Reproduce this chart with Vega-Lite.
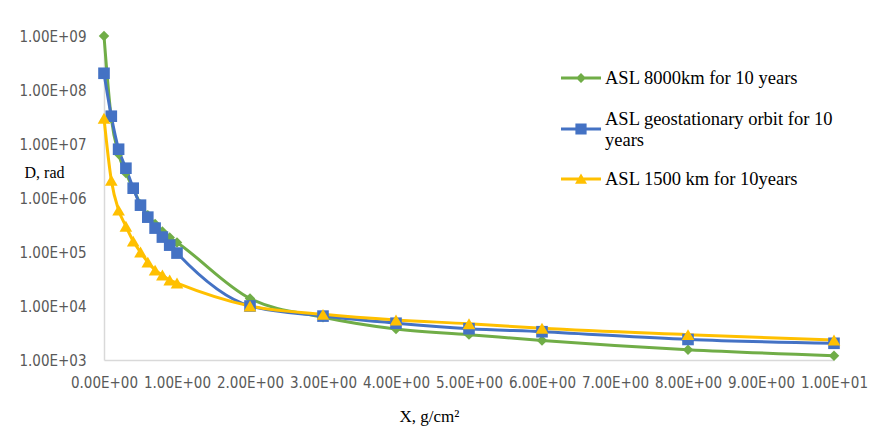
{
  "$schema": "https://vega.github.io/schema/vega-lite/v6.json",
  "width": 730,
  "height": 324,
  "autosize": {"type": "none"},
  "padding": {"left": 104, "top": 36, "right": 45, "bottom": 81},
  "background": "#ffffff",
  "config": {"view": {"stroke": null}},
  "data": {
    "values": [
      {"series": "ASL 8000km for 10 years", "x": 0, "D": 1000000000},
      {"series": "ASL 8000km for 10 years", "x": 0.1, "D": 30000000},
      {"series": "ASL 8000km for 10 years", "x": 0.2, "D": 6500000},
      {"series": "ASL 8000km for 10 years", "x": 0.3, "D": 2900000},
      {"series": "ASL 8000km for 10 years", "x": 0.4, "D": 1500000},
      {"series": "ASL 8000km for 10 years", "x": 0.5, "D": 760000},
      {"series": "ASL 8000km for 10 years", "x": 0.6, "D": 480000},
      {"series": "ASL 8000km for 10 years", "x": 0.7, "D": 330000},
      {"series": "ASL 8000km for 10 years", "x": 0.8, "D": 240000},
      {"series": "ASL 8000km for 10 years", "x": 0.9, "D": 185000},
      {"series": "ASL 8000km for 10 years", "x": 1, "D": 150000},
      {"series": "ASL 8000km for 10 years", "x": 2, "D": 13800},
      {"series": "ASL 8000km for 10 years", "x": 3, "D": 6200},
      {"series": "ASL 8000km for 10 years", "x": 4, "D": 3750},
      {"series": "ASL 8000km for 10 years", "x": 5, "D": 2950},
      {"series": "ASL 8000km for 10 years", "x": 6, "D": 2300},
      {"series": "ASL 8000km for 10 years", "x": 8, "D": 1550},
      {"series": "ASL 8000km for 10 years", "x": 10, "D": 1200},
      {"series": "ASL geostationary orbit for 10 years", "x": 0, "D": 204000000},
      {"series": "ASL geostationary orbit for 10 years", "x": 0.1, "D": 32700000},
      {"series": "ASL geostationary orbit for 10 years", "x": 0.2, "D": 8000000},
      {"series": "ASL geostationary orbit for 10 years", "x": 0.3, "D": 3560000},
      {"series": "ASL geostationary orbit for 10 years", "x": 0.4, "D": 1520000},
      {"series": "ASL geostationary orbit for 10 years", "x": 0.5, "D": 737000},
      {"series": "ASL geostationary orbit for 10 years", "x": 0.6, "D": 442000},
      {"series": "ASL geostationary orbit for 10 years", "x": 0.7, "D": 277000},
      {"series": "ASL geostationary orbit for 10 years", "x": 0.8, "D": 189000},
      {"series": "ASL geostationary orbit for 10 years", "x": 0.9, "D": 134000},
      {"series": "ASL geostationary orbit for 10 years", "x": 1, "D": 95500},
      {"series": "ASL geostationary orbit for 10 years", "x": 2, "D": 10000},
      {"series": "ASL geostationary orbit for 10 years", "x": 3, "D": 6500},
      {"series": "ASL geostationary orbit for 10 years", "x": 4, "D": 4800},
      {"series": "ASL geostationary orbit for 10 years", "x": 5, "D": 3800},
      {"series": "ASL geostationary orbit for 10 years", "x": 6, "D": 3340},
      {"series": "ASL geostationary orbit for 10 years", "x": 8, "D": 2400},
      {"series": "ASL geostationary orbit for 10 years", "x": 10, "D": 2040},
      {"series": "ASL 1500 km for 10years", "x": 0, "D": 30000000},
      {"series": "ASL 1500 km for 10years", "x": 0.1, "D": 2140000},
      {"series": "ASL 1500 km for 10years", "x": 0.2, "D": 596000},
      {"series": "ASL 1500 km for 10years", "x": 0.3, "D": 300000},
      {"series": "ASL 1500 km for 10years", "x": 0.4, "D": 159000},
      {"series": "ASL 1500 km for 10years", "x": 0.5, "D": 99600},
      {"series": "ASL 1500 km for 10years", "x": 0.6, "D": 65000},
      {"series": "ASL 1500 km for 10years", "x": 0.7, "D": 46200},
      {"series": "ASL 1500 km for 10years", "x": 0.8, "D": 37400},
      {"series": "ASL 1500 km for 10years", "x": 0.9, "D": 30200},
      {"series": "ASL 1500 km for 10years", "x": 1, "D": 26600},
      {"series": "ASL 1500 km for 10years", "x": 2, "D": 10000},
      {"series": "ASL 1500 km for 10years", "x": 3, "D": 7000},
      {"series": "ASL 1500 km for 10years", "x": 4, "D": 5500},
      {"series": "ASL 1500 km for 10years", "x": 5, "D": 4700},
      {"series": "ASL 1500 km for 10years", "x": 6, "D": 3860},
      {"series": "ASL 1500 km for 10years", "x": 8, "D": 2950},
      {"series": "ASL 1500 km for 10years", "x": 10, "D": 2340}
    ]
  },
  "encoding": {
    "x": {
      "field": "x",
      "type": "quantitative",
      "scale": {"domain": [0, 10], "nice": false, "zero": false},
      "axis": {
        "values": [0, 1, 2, 3, 4, 5, 6, 7, 8, 9, 10],
        "labelExpr": "replace(format(datum.value, '.2e'), 'e+', 'E+0')",
        "grid": false,
        "ticks": false,
        "tickSize": 0,
        "domainColor": "#d9d9d9",
        "domainWidth": 1.5,
        "labelFont": "Liberation Sans Narrow, DejaVu Sans Condensed, sans-serif",
        "labelFontSize": 15,
        "labelColor": "#595959",
        "labelPadding": 15,
        "labelFlush": false,
        "labelOverlap": false,
        "title": "X, g/cm²",
        "titleFont": "Liberation Serif",
        "titleFontSize": 17,
        "titleFontWeight": "normal",
        "titleColor": "#000000",
        "titleAnchor": null,
        "titleAlign": "center",
        "titleBaseline": "middle",
        "titleX": 325,
        "titleY": 56
      }
    },
    "y": {
      "field": "D",
      "type": "quantitative",
      "scale": {"type": "log", "domain": [1000, 1000000000], "nice": false},
      "axis": {
        "values": [1000, 10000, 100000, 1000000, 10000000, 100000000, 1000000000],
        "labelExpr": "replace(format(datum.value, '.2e'), 'e+', 'E+0')",
        "grid": false,
        "ticks": false,
        "tickSize": 0,
        "domainColor": "#d9d9d9",
        "domainWidth": 1.5,
        "labelFont": "Liberation Sans Narrow, DejaVu Sans Condensed, sans-serif",
        "labelFontSize": 15,
        "labelColor": "#595959",
        "labelPadding": 18,
        "labelFlush": false,
        "labelOverlap": false,
        "title": "D, rad",
        "titleFont": "Liberation Serif",
        "titleFontSize": 16,
        "titleFontWeight": "normal",
        "titleColor": "#000000",
        "titleAngle": 0,
        "titleAnchor": null,
        "titleAlign": "left",
        "titleBaseline": "middle",
        "titleX": -80,
        "titleY": 136
      }
    }
  },
  "resolve": {"legend": {"color": "independent", "fill": "independent", "shape": "independent", "size": "independent"}},
  "layer": [
    {
      "mark": {"type": "line", "interpolate": "monotone", "strokeWidth": 3},
      "encoding": {
        "color": {
          "field": "series",
          "type": "nominal",
          "scale": {
            "domain": ["ASL 8000km for 10 years", "ASL geostationary orbit for 10 years", "ASL 1500 km for 10years"],
            "range": ["#70AD47", "#4472C4", "#FFC000"]
          },
          "legend": {
            "orient": "none",
            "legendX": 457,
            "legendY": 22,
            "title": null,
            "symbolSize": 1600,
            "symbolType": "M-1,-0.075H1V0.075H-1Z",
            "symbolStrokeWidth": 0,
            "labelFont": "Liberation Serif",
            "labelFontSize": 18.5,
            "labelColor": "#000000",
            "labelOffset": 4,
            "labelLimit": 400,
            "rowPadding": 10,
            "labelExpr": "datum.label == 'ASL geostationary orbit for 10 years' ? ['ASL geostationary orbit for 10', 'years'] : datum.label",
            "encode": {
              "symbols": {
                "update": {
                  "shape": {"signal": "datum.value == 'ASL 8000km for 10 years' ? 'M-1,-0.075H1V0.075H-1Z M0,-0.25L0.25,0L0,0.25L-0.25,0Z M0,1.02L0,1.02' : datum.value == 'ASL 1500 km for 10years' ? 'M-1,-0.075H1V0.075H-1Z M0,-0.28L0.3,0.24H-0.3Z' : 'M-1,-0.075H1V0.075H-1Z M-0.28,-0.28H0.28V0.28H-0.28Z'"},
                  "fill": {"signal": "datum.value == 'ASL 8000km for 10 years' ? '#70AD47' : datum.value == 'ASL 1500 km for 10years' ? '#FFC000' : '#4472C4'"},
                  "strokeWidth": {"value": 0},
                  "opacity": {"value": 1}
                }
              },
              "labels": {
                "update": {
                  "lineHeight": {"value": 21},
                  "dy": {"signal": "datum.value == 'ASL geostationary orbit for 10 years' ? -10.5 : 0"}
                }
              }
            }
          }
        }
      }
    },
    {
      "mark": {"type": "point", "filled": true, "opacity": 1, "strokeWidth": 0},
      "encoding": {
        "fill": {
          "field": "series",
          "type": "nominal",
          "scale": {
            "domain": ["ASL 8000km for 10 years", "ASL geostationary orbit for 10 years", "ASL 1500 km for 10years"],
            "range": ["#70AD47", "#4472C4", "#FFC000"]
          },
          "legend": null
        },
        "shape": {
          "field": "series",
          "type": "nominal",
          "scale": {
            "domain": ["ASL 8000km for 10 years", "ASL geostationary orbit for 10 years", "ASL 1500 km for 10years"],
            "range": ["diamond", "square", "triangle-up"]
          },
          "legend": null
        },
        "size": {
          "field": "series",
          "type": "nominal",
          "scale": {
            "domain": ["ASL 8000km for 10 years", "ASL geostationary orbit for 10 years", "ASL 1500 km for 10years"],
            "range": [110, 160, 150]
          },
          "legend": null
        }
      }
    }
  ]
}
